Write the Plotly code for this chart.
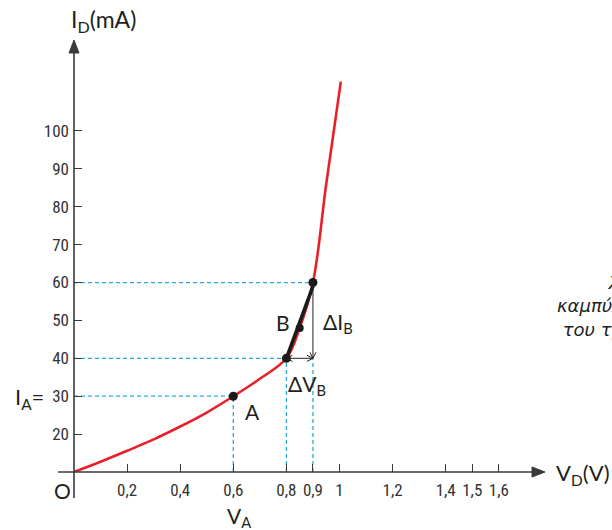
import plotly.graph_objects as go

# ---- data ----
curve_v = [0.0, 0.1, 0.2, 0.3, 0.4, 0.5, 0.6, 0.7, 0.8, 0.85, 0.9, 0.95, 1.005]
curve_i = [10, 12.7, 15.6, 18.6, 22.0, 25.7, 30.0, 34.6, 40.0, 48.0, 60.0, 86.0, 113.0]

point_v = [0.6, 0.8, 0.9]          # A, lower end of B chord, upper end of B chord
point_i = [30, 40, 60]
b_v = [0.85]
b_i = [48]
chord_v = [0.8, 0.9]
chord_i = [40, 59]

xtick_vals = [0.2, 0.4, 0.6, 0.8, 0.9, 1.0, 1.2, 1.4, 1.5, 1.6]
xtick_text = ["0,2", "0,4", "0,6", "0,8", "0,9", "1", "1,2", "1,4", "1,5", "1,6"]
ytick_vals = [20, 30, 40, 50, 60, 70, 80, 90, 100]
ytick_text = ["20", "30", "40", "50", "60", "70", "80", "90", "100"]

caption_lines = ["Χαρακτηριστική", "καμπύλη", "του τρανζίστορ"]

X_RANGE = [0, 1.774]
Y_RANGE = [10, 124]
BASE = Y_RANGE[0]

W, H = 612, 530
ML, MR, MT, MB = 74, 67, 40, 58
PW, PH = W - ML - MR, H - MT - MB

RED = "#e8202a"
BLUE = "#2aa9e0"
AX = "#3a3a3a"
TXT = "#231f20"
LBL_FONT = "Lato, Noto Sans, sans-serif"
CAP_FONT = "DejaVu Sans, Noto Sans, sans-serif"
TICK_FONT = "Liberation Sans Narrow, Roboto Condensed, Liberation Sans, sans-serif"

fig = go.Figure()

shapes = []
# dashed guide lines
for v, i in zip(point_v, point_i):
    shapes.append(dict(type="line", x0=0, x1=v, y0=i, y1=i, xref="x", yref="y",
                       line=dict(color=BLUE, width=1.3, dash="4px,3px"), layer="below"))
for v, i in zip(point_v, [30, 40, 40]):
    shapes.append(dict(type="line", x0=v, x1=v, y0=BASE, y1=i, xref="x", yref="y",
                       line=dict(color=BLUE, width=1.3, dash="4px,3px"), layer="below"))

# axis lines (paper coords: x=0 / y=0 coincide with data origin)
shapes.append(dict(type="line", xref="paper", yref="paper", x0=0, x1=0, y0=-26 / PH, y1=0.985,
                   line=dict(color=AX, width=1.6)))
shapes.append(dict(type="line", xref="paper", yref="paper", x0=-16 / PW, x1=0.985, y0=0, y1=0,
                   line=dict(color=AX, width=1.6)))
# axis arrowheads (pixel-sized triangles)
shapes.append(dict(type="path", xref="paper", yref="paper", xsizemode="pixel", ysizemode="pixel",
                   xanchor=0, yanchor=1, path="M-5,-13 L5,-13 L0,0 Z",
                   fillcolor=AX, line=dict(color=AX, width=1)))
shapes.append(dict(type="path", xref="paper", yref="paper", xsizemode="pixel", ysizemode="pixel",
                   xanchor=1, yanchor=0, path="M-13,-5 L-13,5 L0,0 Z",
                   fillcolor=AX, line=dict(color=AX, width=1)))

# delta V double arrow and delta I arrow
shapes.append(dict(type="line", xref="x", yref="y", x0=chord_v[0], x1=chord_v[1],
                   y0=chord_i[0], y1=chord_i[0], line=dict(color="#222", width=1)))
shapes.append(dict(type="line", xref="x", yref="y", x0=chord_v[1], x1=chord_v[1],
                   y0=chord_i[0], y1=point_i[2], line=dict(color="#222", width=1)))
for xa, ya, p in [(chord_v[1], chord_i[0], "M-6,3 L0,0 L-6,-3"),
                  (chord_v[0], chord_i[0], "M6,3 L0,0 L6,-3"),
                  (chord_v[1], chord_i[0], "M-3,6 L0,0 L3,6")]:
    shapes.append(dict(type="path", xref="x", yref="y", xsizemode="pixel", ysizemode="pixel",
                       xanchor=xa, yanchor=ya, path=p, line=dict(color="#222", width=1)))

fig.add_trace(go.Scatter(x=curve_v, y=curve_i, mode="lines",
                         line=dict(color=RED, width=2.6, shape="spline", smoothing=1.0),
                         hoverinfo="skip", cliponaxis=False))
fig.add_trace(go.Scatter(x=chord_v, y=chord_i, mode="lines",
                         line=dict(color="#1a1a1a", width=3.6), hoverinfo="skip"))
fig.add_trace(go.Scatter(x=point_v, y=point_i, mode="markers",
                         marker=dict(color="#1a1a1a", size=9), hoverinfo="skip", cliponaxis=False))
fig.add_trace(go.Scatter(x=b_v, y=b_i, mode="markers",
                         marker=dict(color="#1a1a1a", size=8), hoverinfo="skip"))

ann = []

def label(text, x, y, xs=0, ys=0, size=21, xanchor="center", yanchor="middle"):
    ann.append(dict(x=x, y=y, xref="x", yref="y", text=text, showarrow=False,
                    xshift=xs, yshift=ys, xanchor=xanchor, yanchor=yanchor,
                    font=dict(family=LBL_FONT, size=size, color=TXT)))

label("I<sub>D</sub>(mA)", 0, Y_RANGE[1], xs=-5, ys=20, xanchor="left", size=23)
label("V<sub>D</sub>(V)", X_RANGE[1], BASE, xs=9, ys=-2, xanchor="left", size=22)
label("O", 0, BASE, xs=-12, ys=-18, size=21)
label("I<sub>A</sub>=", 0, 30, xs=-28, ys=-2, xanchor="right", size=22)
label("V<sub>A</sub>", 0.6, BASE, xs=-8, ys=-45, xanchor="left")
label("A", 0.6, 30, xs=19, ys=-15)
label("B", 0.85, 48, xs=-17, ys=6)
label("ΔI<sub>B</sub>", 0.9, 50, xs=8, ys=-3, xanchor="left")
label("ΔV<sub>B</sub>", 0.8, 40, xs=0, ys=-27, xanchor="left")

# clipped side caption (single block, lines indented as in the picture)
cap = "<br>".join([
    "&nbsp;" * 9 + "<i>" + caption_lines[0] + "</i>",
    "<i>" + caption_lines[1] + "</i>",
    "&nbsp;" + "<i>" + caption_lines[2] + "</i>",
])
ann.append(dict(x=(555 - ML) / PW, y=(H - MB - 306) / PH, xref="paper", yref="paper", text=cap,
                showarrow=False, xanchor="left", yanchor="middle", align="left",
                font=dict(family=CAP_FONT, size=18, color=TXT)))

fig.update_layout(
    width=W, height=H,
    margin=dict(l=ML, r=MR, t=MT, b=MB, autoexpand=False),
    paper_bgcolor="white", plot_bgcolor="white",
    showlegend=False,
    shapes=shapes,
    annotations=ann,
    xaxis=dict(range=X_RANGE, showgrid=False, zeroline=False, showline=False,
               tickmode="array", tickvals=xtick_vals, ticktext=xtick_text,
               ticks="inside", ticklen=8, tickwidth=1.2, tickcolor=AX,
               ticklabelstandoff=6, automargin=False,
               tickfont=dict(family=TICK_FONT, size=17, color="#333")),
    yaxis=dict(range=Y_RANGE, showgrid=False, zeroline=False, showline=False,
               tickmode="array", tickvals=ytick_vals, ticktext=ytick_text,
               ticks="inside", ticklen=8, tickwidth=1.2, tickcolor=AX,
               ticklabelstandoff=4, automargin=False,
               tickfont=dict(family=TICK_FONT, size=17, color="#333")),
)

fig.write_html("out.html", config={"displayModeBar": False},
               post_script="document.body.style.margin='0';document.body.style.overflow='hidden';")
